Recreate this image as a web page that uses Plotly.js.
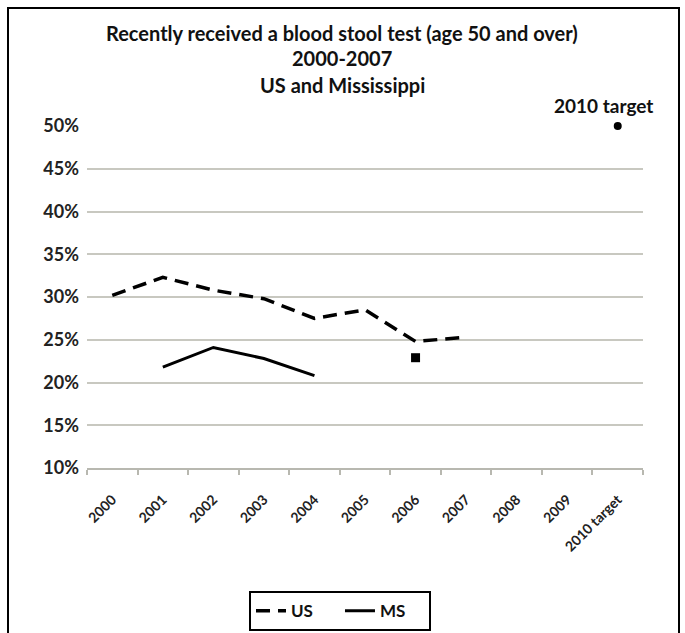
<!DOCTYPE html>
<html><head><meta charset="utf-8">
<script src="https://cdn.plot.ly/plotly-3.0.1.min.js"></script>
<style>
html,body{margin:0;padding:0;background:#fff;overflow:hidden;}
#frame{position:absolute;left:7px;top:7px;width:669px;height:640px;border:2px solid #000;}
#chart{position:absolute;left:0;top:0;width:685px;height:633px;}
</style></head>
<body>
<div id="frame"></div>
<div id="chart"></div>
<script>
var categories = ["2000","2001","2002","2003","2004","2005","2006","2007","2008","2009","2010 target"];
var usValues = [30.2, 32.3, 30.8, 29.8, 27.5, 28.5, 24.8, 25.3, null, null, null];
var msValues = [null, 21.8, 24.1, 22.8, 20.8, null, null, null, null, null, null];
var ms2006Category = ["2006"];
var ms2006Value = [22.9];
var targetCategory = ["2010 target"];
var targetValue = [50];
var titleLines = ["Recently received a blood stool test (age 50 and over)", "2000-2007", "US and Mississippi"];

var FONT = "Lato, 'Open Sans', sans-serif";
var traces = [
  {x: categories, y: usValues, type: "scatter", mode: "lines", name: "US",
   line: {color: "#000", width: 3.5, dash: "14px,8px"}, connectgaps: false},
  {x: categories, y: msValues, type: "scatter", mode: "lines", name: "MS",
   line: {color: "#000", width: 3}, connectgaps: false},
  {x: ms2006Category, y: ms2006Value, type: "scatter", mode: "markers", showlegend: false,
   marker: {symbol: "square", size: 9, color: "#000"}},
  {x: targetCategory, y: targetValue, type: "scatter", mode: "markers", showlegend: false,
   cliponaxis: false, marker: {symbol: "circle", size: 8, color: "#000"}}
];

var annY = [1.272, 1.199, 1.12];
var annotations = titleLines.map(function(t, i){
  return {text: t, xref: "paper", yref: "paper", x: 0.459, y: annY[i],
    xanchor: "center", yanchor: "middle", showarrow: false,
    font: {family: FONT, size: 20, color: "#111", weight: "bold"}};
});
annotations.push({text: "2010 target", xref: "x", yref: "paper", x: "2010 target", y: 1.06,
  xanchor: "center", yanchor: "middle", xshift: -14, showarrow: false,
  font: {family: FONT, size: 19, color: "#111", weight: "bold"}});

var layout = {
  width: 685, height: 633,
  margin: {l: 87, r: 42, t: 126, b: 165},
  paper_bgcolor: "rgba(0,0,0,0)", plot_bgcolor: "rgba(0,0,0,0)",
  showlegend: true,
  legend: {orientation: "h", x: 0.455, xanchor: "center", yref: "container", y: 0.066, yanchor: "top",
    bordercolor: "#000", borderwidth: 2, font: {family: FONT, size: 17, color: "#111", weight: "bold"},
    itemwidth: 30, entrywidth: 44, tracegroupgap: 0},
  xaxis: {type: "category", categoryorder: "array", categoryarray: categories,
    range: [-0.5, 10.5], tickson: "boundaries", ticks: "outside", ticklen: 5,
    tickcolor: "#b8b8b0", tickwidth: 2, showline: true, linecolor: "#b8b8b0", linewidth: 2,
    showgrid: false, tickangle: -45, ticklabelstandoff: 16, automargin: false,
    tickfont: {family: FONT, size: 14, color: "#222", weight: "bold"}, fixedrange: true},
  yaxis: {range: [10, 50], dtick: 5, tick0: 10, ticksuffix: "%", showgrid: true,
    gridcolor: "#c8c8c0", gridwidth: 2, zeroline: false, showline: false, ticks: "",
    ticklabelstandoff: 7, automargin: false,
    tickfont: {family: FONT, size: 18, color: "#222", weight: "bold"}, fixedrange: true},
  annotations: annotations
};
Plotly.newPlot("chart", traces, layout, {displayModeBar: false, staticPlot: true});
</script>
</body></html>
